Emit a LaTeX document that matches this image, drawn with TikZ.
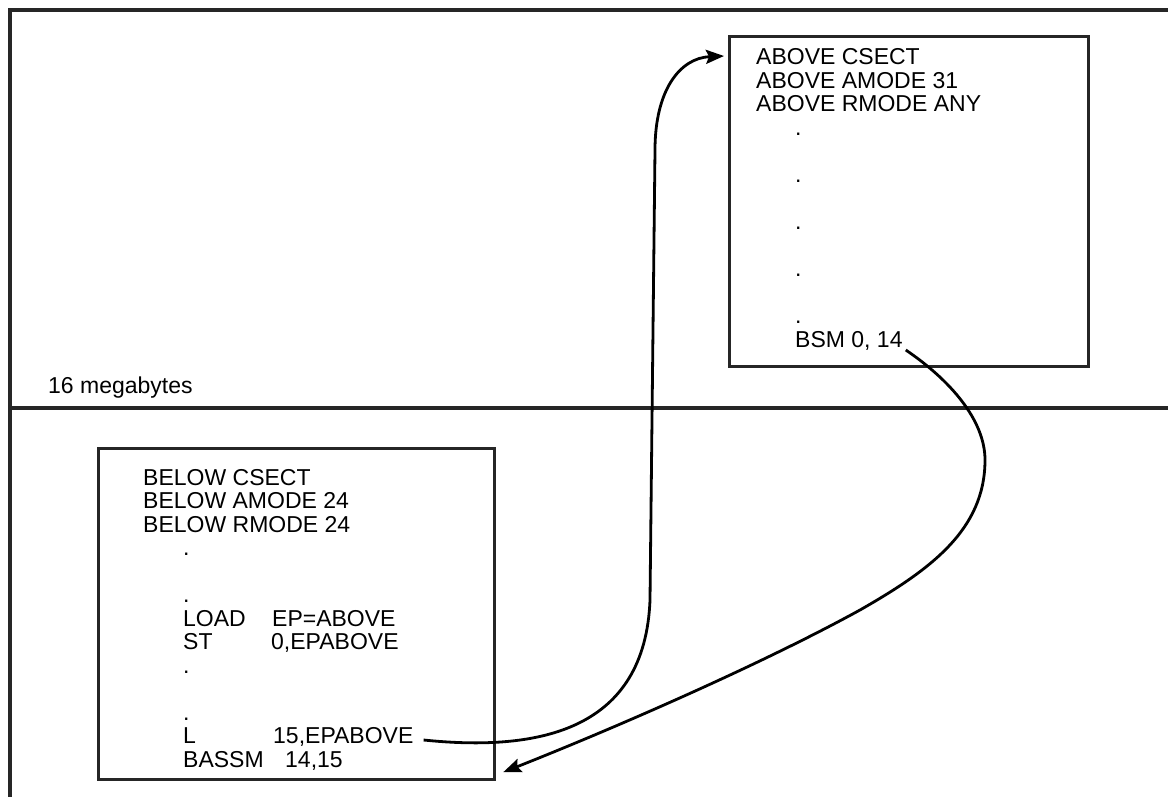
\documentclass[tikz,border=0pt]{standalone}
\usepackage{fontspec}
\setmainfont{Liberation Sans}
\usetikzlibrary{arrows.meta,calc}

\begin{document}
\begin{tikzpicture}[
    x=1pt, y=-1pt,
    frame/.style={line width=3.2pt, draw=black!85},
    box/.style={draw=black!85, line width=3.2pt, inner sep=0pt, anchor=north west},
    code/.style={font=\fontsize{23}{23.5}\selectfont, inner sep=0pt, anchor=base west},
    flow/.style={line width=2.8pt, -{Stealth[length=18pt,width=14pt,inset=3pt]}}
  ]
  \useasboundingbox (0,0) rectangle (1168,797);
  % storage frame and the 16 MB line
  \draw[frame] (10,797) -- (10,10) -- (1168,10);
  \draw[frame] (10,408) -- (1168,408);
  \node[code] (line16) at (48,393) {16 megabytes};

  % module above the line
  \node[box, minimum width=359pt, minimum height=330pt] (abovebox) at (728,35) {};
  \node[code] (acsect) at (756,65) {ABOVE CSECT};
  \node[code] (aamode) at (756,88.5) {ABOVE AMODE 31};
  \node[code] (armode) at (756,112) {ABOVE RMODE ANY};
  \node[code] (adot1) at (795,135.5) {.};
  \node[code] (adot2) at (795,182.5) {.};
  \node[code] (adot3) at (795,229.5) {.};
  \node[code] (adot4) at (795,276.5) {.};
  \node[code] (adot5) at (795,323.5) {.};
  \node[code] (bsm) at (795,347) {BSM 0, 14};

  % module below the line
  \node[box, minimum width=396pt, minimum height=331pt] (belowbox) at (97,447) {};
  \node[code] (bcsect) at (143,485) {BELOW CSECT};
  \node[code] (bamode) at (143,508.5) {BELOW AMODE 24};
  \node[code] (brmode) at (143,532) {BELOW RMODE 24};
  \node[code] (bdot1) at (183,555.5) {.};
  \node[code] (bdot2) at (183,602.5) {.};
  \node[code] (load) at (183,626) {LOAD};
  \node[code] (loadop) at (272,626) {EP=ABOVE};
  \node[code] (st) at (183,649.5) {ST};
  \node[code] (stop) at (271,649.5) {0,EPABOVE};
  \node[code] (bdot3) at (183,673) {.};
  \node[code] (bdot4) at (183,720) {.};
  \node[code] (lreg) at (183,743.5) {L};
  \node[code] (lop) at (273,743.5) {15,EPABOVE};
  \node[code] (bassm) at (183,767) {BASSM};
  \node[code] (bassmop) at (285,767) {14,15};

  % branch up and return
  \draw[flow] ([xshift=10pt,yshift=3.5pt]lop.base east) .. controls (540,752) and (645,730) .. (650,600)
    -- (655,150) .. controls (655,90) and (680,58) .. ([shift={(-4,21)}]abovebox.north west);
  \draw[flow] ([xshift=3pt,yshift=-3pt]bsm.base east) .. controls (950,380) and (985,420) .. (985,460)
    .. controls (985,530) and (930,570) .. (860,610)
    .. controls (760,665) and (610,730) .. ([shift={(7,-9)}]belowbox.south east);
\end{tikzpicture}
\end{document}
